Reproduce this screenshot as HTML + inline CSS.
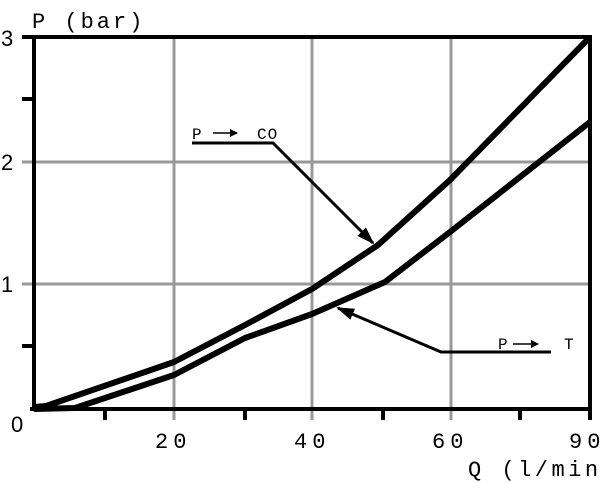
<!DOCTYPE html>
<html><head><style>body{margin:0;background:#fff}svg{display:block}</style></head><body>
<svg width="600" height="483" viewBox="0 0 600 483" xmlns="http://www.w3.org/2000/svg">
<defs><marker id="ah" markerWidth="8" markerHeight="8" refX="7" refY="4" orient="auto" markerUnits="userSpaceOnUse"><path d="M0,0 L8,4 L0,8 z" fill="#000"/></marker>
<marker id="big" markerWidth="18" markerHeight="12" refX="16" refY="6" orient="auto" markerUnits="userSpaceOnUse"><path d="M0,0 L18,6 L0,12 z" fill="#000"/></marker></defs>
<g stroke="#999" stroke-width="3">
<line x1="174" y1="37" x2="174" y2="420"/><line x1="312" y1="37" x2="312" y2="420"/><line x1="451" y1="37" x2="451" y2="420"/>
<line x1="22" y1="162" x2="590" y2="162"/><line x1="22" y1="284" x2="590" y2="284"/></g>
<g stroke="#000" stroke-width="4" fill="none">
<line x1="22" y1="37" x2="592" y2="37"/>
<line x1="34" y1="37" x2="34" y2="411"/>
<line x1="30" y1="409" x2="592" y2="409"/>
<line x1="590" y1="37" x2="590" y2="420"/>
<line x1="22" y1="99" x2="34" y2="99"/><line x1="22" y1="346" x2="34" y2="346"/>
<line x1="105" y1="409" x2="105" y2="420"/><line x1="245" y1="409" x2="245" y2="420"/><line x1="383" y1="409" x2="383" y2="420"/><line x1="520" y1="409" x2="520" y2="420"/>
</g>
<g stroke="#000" stroke-width="6" fill="none" stroke-linejoin="round">
<polyline points="34,407 46,406 174,362 245,325 312,289 378,245 450,180 590,37"/>
<polyline points="34,409 75,408 174,375 245,338 312,314 385,282 450,232 590,122"/>
</g>
<g stroke="#000" stroke-width="3" fill="none">
<polyline points="192,143 273,143 373,243" marker-end="url(#big)"/>
<polyline points="551,352 441,352 338,308" marker-end="url(#big)"/>
<line x1="213" y1="133" x2="237" y2="133" stroke-width="1.5" marker-end="url(#ah)"/>
<line x1="513" y1="344" x2="538" y2="344" stroke-width="1.5" marker-end="url(#ah)"/>
</g>
<g font-family="Liberation Mono, monospace" fill="#000">
<text x="32" y="28" font-size="22" letter-spacing="3">P (bar)</text>
<text x="192" y="139" font-size="16">P</text><text x="257" y="139" font-size="16" letter-spacing="1">CO</text>
<text x="498" y="349" font-size="16">P</text><text x="564" y="349" font-size="16">T</text>
<g font-size="22" letter-spacing="5"><text x="155" y="448">20</text><text x="294" y="448">40</text><text x="432" y="448">60</text><text x="569" y="448">90</text></g>
<text x="468" y="476" font-size="22" letter-spacing="3.5">Q (l/min</text>
</g>
<g font-family="Liberation Sans, sans-serif" font-size="22" fill="#000">
<text x="1" y="46">3</text><text x="1" y="170">2</text><text x="1" y="292">1</text><text x="11" y="432">0</text>
</g>
</svg>
</body></html>
